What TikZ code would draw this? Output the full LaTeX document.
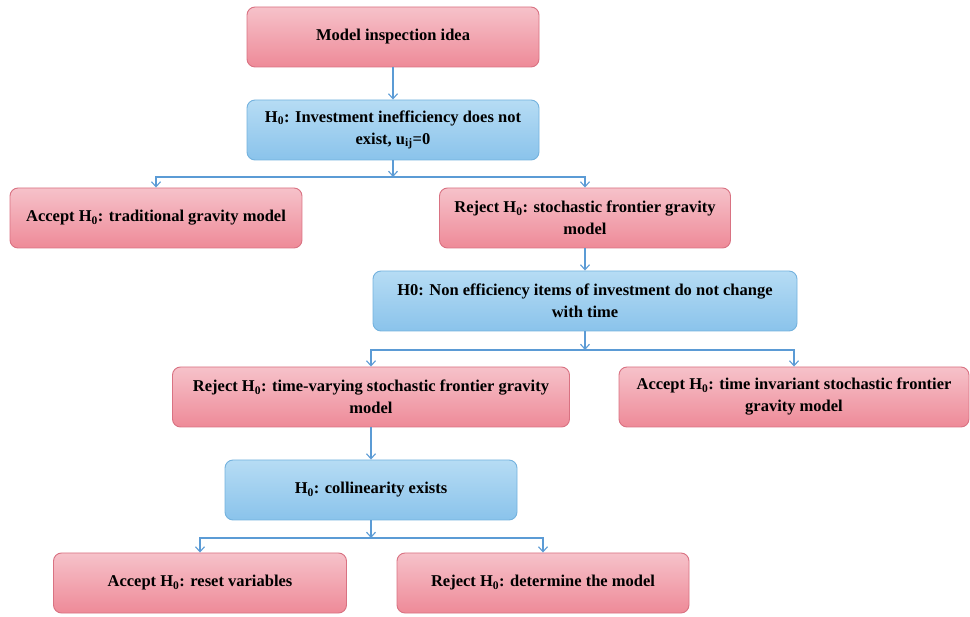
\documentclass[tikz,border=0pt]{standalone}
\usepackage{fontspec}
\setmainfont{Liberation Serif}
\usetikzlibrary{arrows.meta}
\definecolor{pinktop}{HTML}{F6C2CA}
\definecolor{pinkbot}{HTML}{EE8A98}
\definecolor{pinkline}{HTML}{D97282}
\definecolor{bluetop}{HTML}{B6DCF4}
\definecolor{bluebot}{HTML}{8AC3EB}
\definecolor{blueline}{HTML}{74B2DE}
\definecolor{arrowcol}{HTML}{5B9BD5}
\tikzset{
  box/.style={rounded corners=8pt, line width=0.9pt, minimum height=60pt,
    align=center, font=\bfseries\fontsize{16.5}{22}\selectfont, inner sep=2pt},
  pinkbox/.style={box, draw=pinkline, top color=pinktop, bottom color=pinkbot},
  bluebox/.style={box, draw=blueline, top color=bluetop, bottom color=bluebot},
  arr/.style={draw=arrowcol, line width=1.1pt, -{Straight Barb[length=5pt,width=9pt,line width=1.1pt]}},
  ln/.style={draw=arrowcol, line width=1.1pt}
}
\begin{document}
\begin{tikzpicture}[x=1pt,y=-1pt]
\useasboundingbox (0,0) rectangle (970,617);
\node[pinkbox, minimum width=292pt] (b1) at (393,37) {Model inspection idea};
\node[bluebox, minimum width=292pt] (b2) at (393,130) {H\textsubscript{0}: Investment inefficiency does not\\exist, u\textsubscript{ij}=0};
\node[pinkbox, minimum width=292pt] (b3) at (156,218) {Accept H\textsubscript{0}: traditional gravity model};
\node[pinkbox, minimum width=291pt] (b4) at (585,218) {Reject H\textsubscript{0}: stochastic frontier gravity\\model};
\node[bluebox, minimum width=424pt] (b5) at (585,301) {H0: Non efficiency items of investment do not change\\with time};
\node[pinkbox, minimum width=397pt] (b6) at (371,397) {Reject H\textsubscript{0}: time-varying stochastic frontier gravity\\model};
\node[pinkbox, minimum width=350pt] (b7) at (794,397) {Accept H\textsubscript{0}: time invariant stochastic frontier\\gravity model};
\node[bluebox, minimum width=292pt] (b8) at (371,490) {H\textsubscript{0}: collinearity exists};
\node[pinkbox, minimum width=293pt] (b9) at (200,583) {Accept H\textsubscript{0}: reset variables};
\node[pinkbox, minimum width=292pt] (b10) at (543,583) {Reject H\textsubscript{0}: determine the model};

\coordinate (j1) at (393,177);
\coordinate (j2) at (585,350);
\coordinate (j3) at (371,538);

\draw[arr] (b1) -- (b2);
\draw[arr] (b2) -- (j1);
\draw[arr] (j1) -| (b3.north);
\draw[arr] (j1) -| (b4.north);
\draw[arr] (b4) -- (b5);
\draw[arr] (b5) -- (j2);
\draw[arr] (j2) -| (b6.north);
\draw[arr] (j2) -| (b7.north);
\draw[arr] (b6) -- (b8);
\draw[arr] (b8) -- (j3);
\draw[arr] (j3) -| (b9.north);
\draw[arr] (j3) -| (b10.north);
\end{tikzpicture}
\end{document}
